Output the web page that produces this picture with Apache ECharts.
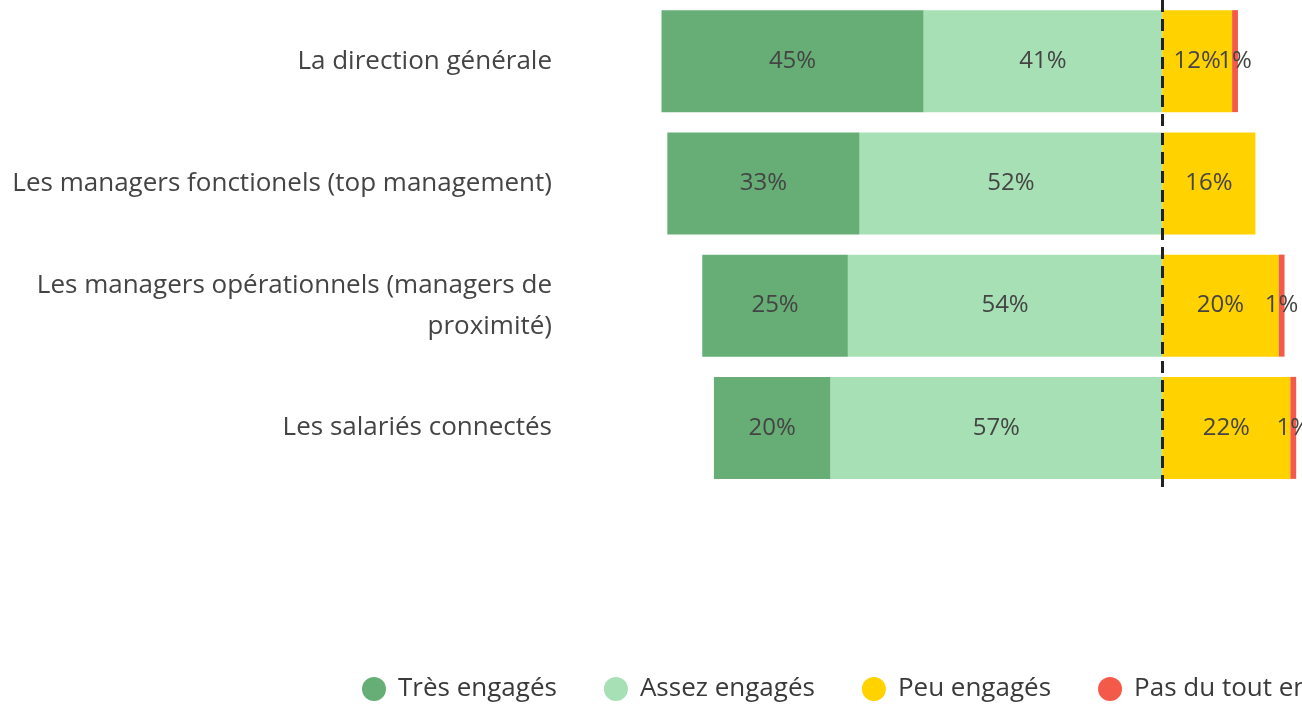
<!DOCTYPE html>
<html>
<head>
<meta charset="utf-8">
<script src="https://cdn.jsdelivr.net/npm/echarts@6/dist/echarts.min.js"></script>
<style>
  html, body { margin: 0; padding: 0; background: #fff; }
  #chart { width: 1302px; height: 707px; }
</style>
</head>
<body>
<div id="chart"></div>
<script>
  // données
  var categories = [
    'La direction générale',
    'Les managers fonctionels (top management)',
    'Les managers opérationnels (managers de\nproximité)',
    'Les salariés connectés'
  ];
  var tresEngages = [45, 33, 25, 20];
  var assezEngages = [41, 52, 54, 57];
  var peuEngages = [12, 16, 20, 22];
  var pasDuTout = [1, 0, 1, 1];

  var chart = echarts.init(document.getElementById('chart'));

  var labelStyle = {
    show: true,
    position: 'inside',
    fontFamily: 'Open Sans',
    fontSize: 24,
    color: '#444',
    formatter: function (p) {
      var v = Math.abs(p.value);
      return v ? v + '%' : '';
    }
  };

  // valeurs négatives à gauche de la ligne
  function neg(arr) {
    return arr.map(function (v) { return -v; });
  }

  chart.setOption({
    animation: false,
    grid: {
      left: 580,
      right: 0,
      top: 0,
      height: 489
    },
    xAxis: {
      type: 'value',
      min: -100,
      max: 24,
      show: false
    },
    yAxis: {
      type: 'category',
      inverse: true,
      data: categories,
      axisLine: { show: false },
      axisTick: { show: false },
      axisLabel: {
        margin: 28,
        fontFamily: 'Open Sans',
        fontSize: 26,
        lineHeight: 41,
        color: '#444',
        align: 'right'
      }
    },
    legend: {
      left: 357,
      top: 671,
      width: 1500,   // pas de retour à la ligne, la légende dépasse à droite
      icon: 'circle',
      itemWidth: 24,
      itemHeight: 24,
      itemGap: 47,
      textStyle: {
        fontFamily: 'Open Sans',
        fontSize: 26,
        color: '#3a3a3a',
        padding: [0, 0, 0, 7]
      },
      data: ['Très engagés', 'Assez engagés', 'Peu engagés', 'Pas du tout engagés']
    },
    series: [
      {
        name: 'Assez engagés',
        type: 'bar',
        stack: 'total',
        barWidth: 102,
        itemStyle: { color: '#a6e0b4' },
        label: labelStyle,
        data: neg(assezEngages),
        markLine: {
          silent: true,
          symbol: 'none',
          label: { show: false },
          lineStyle: { color: '#222', type: [12, 7], width: 3 },
          data: [{ xAxis: 0 }]
        }
      },
      {
        name: 'Très engagés',
        type: 'bar',
        stack: 'total',
        itemStyle: { color: '#66ae75' },
        label: labelStyle,
        data: neg(tresEngages)
      },
      {
        name: 'Peu engagés',
        type: 'bar',
        stack: 'total',
        itemStyle: { color: '#ffd200' },
        label: labelStyle,
        data: peuEngages
      },
      {
        name: 'Pas du tout engagés',
        type: 'bar',
        stack: 'total',
        itemStyle: { color: '#f45a4a' },
        label: labelStyle,
        data: pasDuTout
      }
    ]
  });
</script>
</body>
</html>
